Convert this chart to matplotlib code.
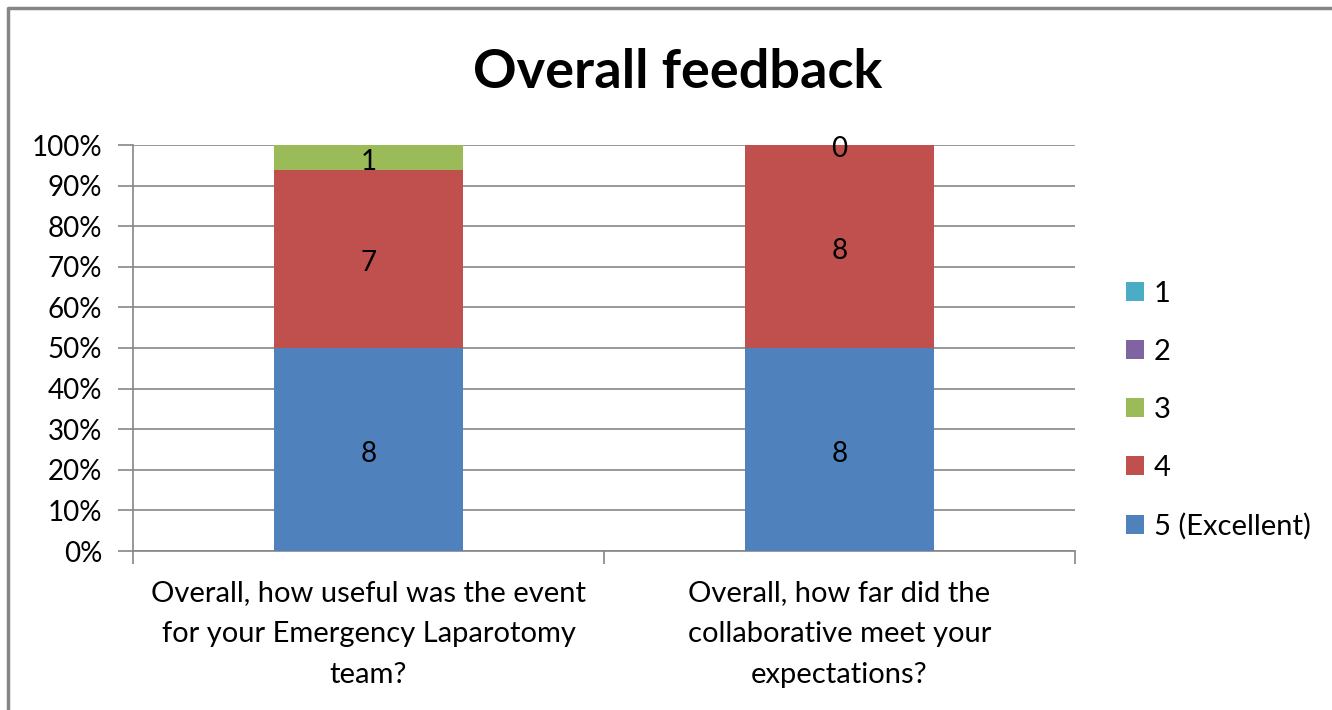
import numpy as np
import matplotlib.pyplot as plt
from matplotlib.lines import Line2D
from matplotlib.ticker import PercentFormatter

plt.rcParams['font.family'] = ['Lato', 'DejaVu Sans']

questions = ["Overall, how useful was the event\nfor your Emergency Laparotomy\nteam?",
             "Overall, how far did the\ncollaborative meet your\nexpectations?"]
series = ["5 (Excellent)", "4", "3", "2", "1"]
counts = {
    "5 (Excellent)": [8, 8],
    "4": [7, 8],
    "3": [1, 0],
    "2": [0, 0],
    "1": [0, 0],
}
colors = {
    "5 (Excellent)": "#4F81BD",
    "4": "#C0504D",
    "3": "#9BBB59",
    "2": "#8064A2",
    "1": "#4BACC6",
}
labelled = ["5 (Excellent)", "4", "3"]

if __name__ == "__main__":
    totals = np.sum([counts[s] for s in series], axis=0)
    x = np.arange(len(questions))

    fig = plt.figure(figsize=(13.32, 7.1), dpi=100)
    ax = fig.add_axes([133 / 1332, 159 / 710, 942 / 1332, 406 / 710])

    bottom = np.zeros(len(questions))
    handles = []
    for s in series:
        share = np.array(counts[s]) / totals * 100
        bars = ax.bar(x, share, 0.4, bottom=bottom, color=colors[s], label=s, zorder=3)
        handles.append(bars)
        if s in labelled:
            for xi, b, h, c in zip(x, bottom, share, counts[s]):
                ax.annotate(str(c), (xi, b + h / 2), xytext=(0, -3), textcoords='offset points',
                            ha='center', va='center', fontsize=20, color='black', zorder=4)
        bottom += share

    ax.set_xlim(-0.5, 1.5)
    ax.set_ylim(0, 100)
    ax.set_yticks(np.arange(0, 101, 10))
    ax.yaxis.set_major_formatter(PercentFormatter(decimals=0))
    ax.grid(axis='y', color='#868686', linewidth=1.2, zorder=0)
    ax.set_xticks([-0.5, 0.5, 1.5])
    ax.set_xticklabels([])
    ax.set_xticks(x, minor=True)
    ax.set_xticklabels(questions, minor=True, fontsize=21, linespacing=1.7)
    ax.tick_params(axis='x', which='minor', length=0, pad=21)
    ax.tick_params(axis='x', which='major', length=9, color='#868686', width=1.2)
    ax.tick_params(axis='y', length=11, color='#868686', width=1.2, labelsize=20, pad=11)
    for side in ['top', 'right']:
        ax.spines[side].set_visible(False)
    for side in ['left', 'bottom']:
        ax.spines[side].set_color('#868686')
        ax.spines[side].set_linewidth(1.2)

    fig.suptitle("Overall feedback", x=678 / 1332, y=0.932, fontsize=39, fontweight='bold')

    fig.legend(handles[::-1], series[::-1], loc='center left',
               bbox_to_anchor=(1100 / 1332, 0.422), frameon=False, fontsize=21,
               handlelength=0.6, handleheight=0.6, handletextpad=0.35, labelspacing=1.1)

    # chart border, cropped on the right and bottom
    fig.add_artist(Line2D([8 / 1332, 8 / 1332, 1.0], [0.0, 1 - 8 / 710, 1 - 8 / 710],
                          transform=fig.transFigure, color='#868686', linewidth=2.5))

    fig.savefig("out.png", dpi=100)
